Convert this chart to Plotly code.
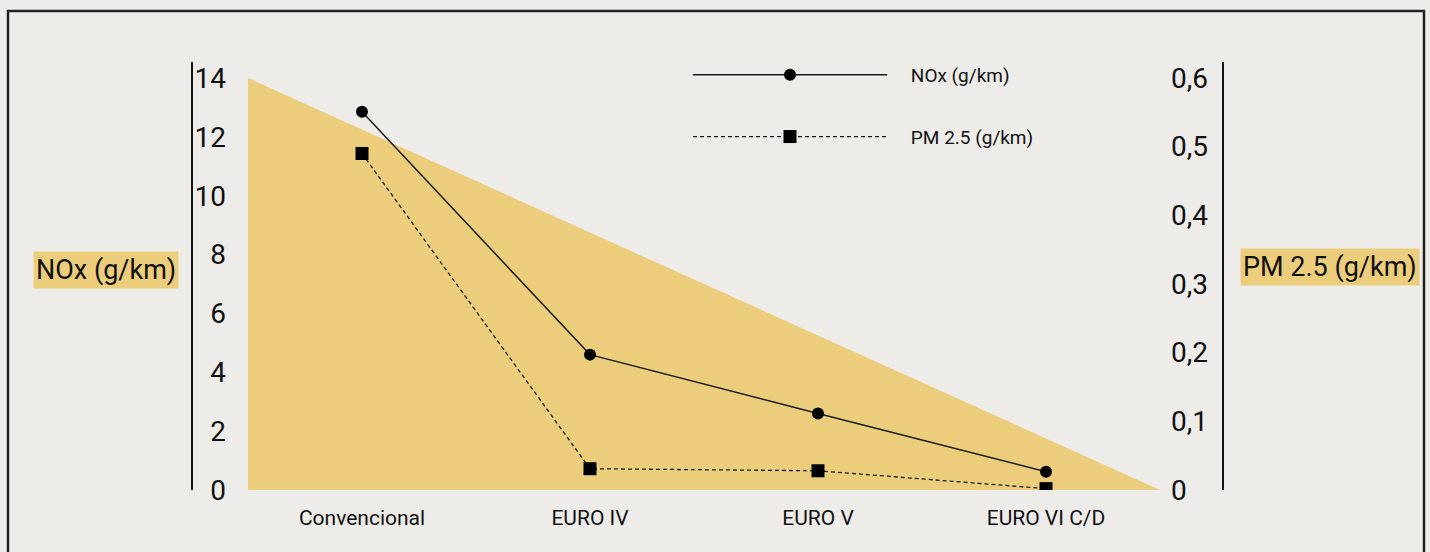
import plotly.graph_objects as go

categories = ["Convencional", "EURO IV", "EURO V", "EURO VI C/D"]
nox_values = [12.85, 4.6, 2.6, 0.62]
pm_values = [0.49, 0.031, 0.028, 0.002]
triangle_y = [0, 14, 0]
left_ticks = [0, 2, 4, 6, 8, 10, 12, 14]
right_ticks = [0, 0.1, 0.2, 0.3, 0.4, 0.5, 0.6]
right_tick_labels = ["0", "0,1", "0,2", "0,3", "0,4", "0,5", "0,6"]

x_pos = list(range(len(categories)))
tri_x = [-0.5, -0.5, len(categories) - 0.5]

GOLD = "#ECCD7C"
BG = "#EDECE9"
TICKFONT = dict(family="Roboto", size=28, color="#111")
PAD = "\u00a0\u00a0\u00a0\u00a0"

fig = go.Figure()
fig.add_trace(go.Scatter(x=tri_x, y=triangle_y, fill="toself", fillcolor=GOLD,
                         mode="none", showlegend=False, hoverinfo="skip"))
fig.add_trace(go.Scatter(x=x_pos, y=nox_values, name=PAD + "NOx (g/km)", mode="lines+markers",
                         line=dict(color="#1a1a1a", width=1.5),
                         marker=dict(symbol="circle", size=12, color="#000"),
                         legendgroup="a"))
fig.add_trace(go.Scatter(x=x_pos, y=pm_values, name=PAD + "PM 2.5 (g/km)", mode="lines+markers",
                         line=dict(color="#1a1a1a", width=1.3, dash="4px,3px"),
                         marker=dict(symbol="square", size=13, color="#000"),
                         yaxis="y2", legendgroup="b"))

fig.update_layout(
    width=1430, height=552,
    margin=dict(l=248, r=270, t=78, b=62),
    paper_bgcolor=BG, plot_bgcolor="rgba(0,0,0,0)",
    showlegend=True,
    legend=dict(x=(688 - 248) / 912, y=(490 - 56) / 412, xanchor="left", yanchor="top",
                bgcolor="rgba(0,0,0,0)", itemwidth=194, tracegroupgap=34,
                font=dict(family="Roboto", size=19, color="#111")),
    xaxis=dict(range=[-0.5, len(categories) - 0.5], tickvals=x_pos, ticktext=categories,
               showgrid=False, zeroline=False, showline=False, ticks="",
               tickfont=dict(family="Roboto", size=21, color="#111"), ticklabelstandoff=13),
    yaxis=dict(range=[0, 14], tickvals=left_ticks, showgrid=False, zeroline=False,
               showline=False, ticks="", tickfont=TICKFONT, ticklabelstandoff=21),
    yaxis2=dict(range=[0, 0.6], tickvals=right_ticks, ticktext=right_tick_labels,
                overlaying="y", side="right", showgrid=False, zeroline=False,
                showline=False, ticks="", tickfont=TICKFONT, ticklabelstandoff=10),
    shapes=[
        dict(type="line", xref="paper", yref="paper", x0=(192 - 248) / 912, x1=(192 - 248) / 912,
             y0=0, y1=(490 - 62) / 412, line=dict(color="#111", width=2)),
        dict(type="line", xref="paper", yref="paper", x0=(1223 - 248) / 912, x1=(1223 - 248) / 912,
             y0=0, y1=(490 - 62) / 412, line=dict(color="#111", width=2)),
        dict(type="rect", xref="paper", yref="paper", x0=(8 - 248) / 912, x1=(1424 - 248) / 912,
             y0=(490 - 570) / 412, y1=(490 - 11) / 412, line=dict(color="#222", width=2.5)),
    ],
    annotations=[
        dict(text="NOx (g/km)", xref="paper", yref="paper", x=(105.5 - 248) / 912,
             y=(490 - 269.5) / 412, xanchor="center", yanchor="middle",
             showarrow=False, bgcolor=GOLD, borderpad=2,
             font=dict(family="Roboto", size=27, color="#111")),
        dict(text="PM 2.5 (g/km)", xref="paper", yref="paper", x=(1329.5 - 248) / 912,
             y=(490 - 266.5) / 412, xanchor="center", yanchor="middle",
             showarrow=False, bgcolor=GOLD, borderpad=2,
             font=dict(family="Roboto", size=27, color="#111")),
    ],
)

fig.write_html("out.html", config={"displayModeBar": False},
               post_script="document.body.style.margin='0';document.body.style.background='" + BG + "';")
